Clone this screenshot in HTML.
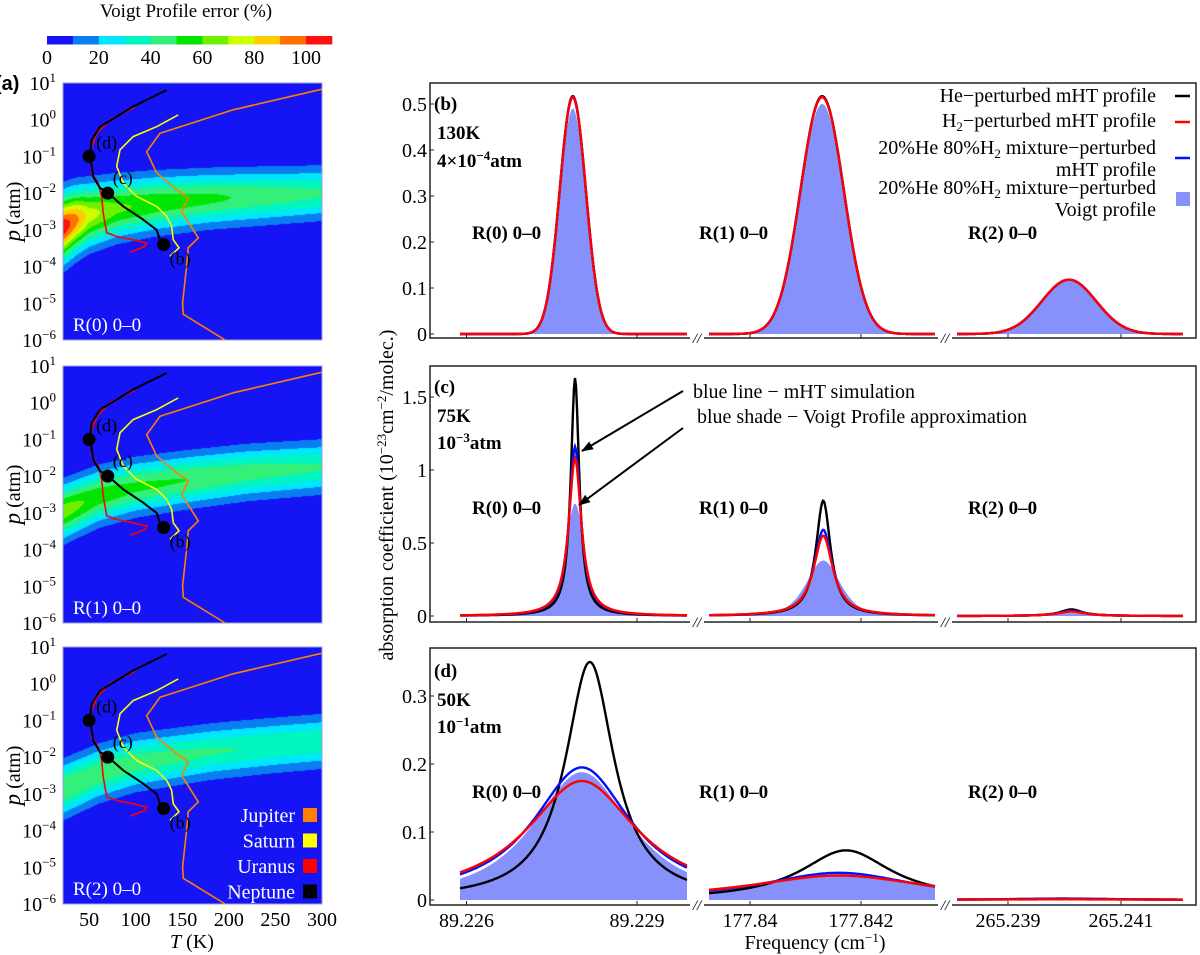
<!DOCTYPE html>
<html><head><meta charset="utf-8">
<style>
body{margin:0;background:#fff;width:1200px;height:955px;overflow:hidden;position:relative;font-family:"Liberation Serif",serif}
canvas{position:absolute}
svg{position:absolute;left:0;top:0}
</style></head>
<body>
<canvas id="cv0" style="left:63px;top:83px" width="259" height="257"></canvas>
<canvas id="cv1" style="left:63px;top:366px" width="259" height="257"></canvas>
<canvas id="cv2" style="left:63px;top:647px" width="259" height="257"></canvas>
<svg id="svg" width="1200" height="955" font-family="Liberation Serif, serif"></svg>
<script>
// ---------- DATA ----------
const levelColors=['#1414f5','#0a7df0','#00e6ff','#00f5c0','#33f07a','#00e600','#70f000','#ccff00','#ffcc00','#ff7000','#ff1010'];
const cbTicks=[0,20,40,60,80,100];
const tTicks=[50,100,150,200,250,300];
const pTicks=[1,0,-1,-2,-3,-4,-5,-6];
const f0T=[22,35,50,80,120,180,300], f0A=[108,95,75,62,57,52,41], f0C=[-2.94,-2.75,-2.6,-2.42,-2.28,-2.15,-2.0], f0S=[0.81,0.78,0.75,0.72,0.69,0.66,0.64];
const f1T=[22,60,100,155,220,300], f1A=[66,56,52,50,45,40.5], f1C=[-2.97,-2.55,-2.3,-2.1,-1.9,-1.75], f1S=[0.67,0.66,0.65,0.64,0.64,0.64];
const f2T=[22,60,100,180,240,300], f2A=[50,47,45,41,39,38], f2C=[-2.88,-2.45,-2.15,-1.85,-1.7,-1.57], f2S=[0.67,0.66,0.66,0.65,0.65,0.65];
const jupiterT=[300,204.7,126.1,111.8,122.5,144,156.4,149.4,167.2,156.4,154.7,150.4,151.1,196];
const jupiterLogP=[0.83,0.27,-0.37,-0.87,-1.45,-1.91,-2.13,-2.5,-3.22,-3.49,-3.99,-4.99,-5.3,-6];
const saturnT=[145.7,122.5,97.4,83.2,79.6,86.7,101,122.5,133.3,138.6,140.4,146.5,136.8];
const saturnLogP=[0.13,-0.19,-0.46,-0.82,-1.27,-1.73,-2.09,-2.36,-2.63,-2.9,-3.27,-3.49,-3.72];
const uranusT=[99.3,72.4,58.2,51.7,52.8,59.9,63.5,65.2,68.9,79.6,97.4,111.8,110,93.9];
const uranusLogP=[0.34,0,-0.37,-0.82,-1.45,-1.73,-2.09,-2.54,-3.08,-3.18,-3.27,-3.36,-3.45,-3.61];
const neptuneT=[133.3,97.4,61.7,52.8,51,54.5,61.7,69.5,86.7,108,122.5,128.5];
const neptuneLogP=[0.81,0.36,-0.19,-0.55,-0.98,-1.55,-1.86,-1.98,-2.36,-2.72,-3.0,-3.45];
const pointT=[130,70,50], pointLogP=[-3.4,-2,-1], pointLabels=['(b)','(c)','(d)'];
const lineLabels=['R(0) 0–0','R(1) 0–0','R(2) 0–0'];
const bCenter=[89.22787,177.84130,265.24008];
const bHe=[0.517,0.517,0.118], bH2=[0.515,0.515,0.118], bMix=[0.515,0.515,0.118], bVoigt=[0.49,0.50,0.115];
const bGw=[0.00023,0.00039,0.00048];
const cCenter=[89.22791,177.84132,265.24012];
const cHe=[1.63,0.79,0.045], cH2=[1.08,0.55,0.03], cMix=[1.16,0.59,0.035], cVoigt=[0.77,0.38,0.02];
const cWHe=[0.00009,0.00016,0.00024], cWH2=[0.000135,0.00021,0.0003], cWMix=[0.000125,0.0002,0.00028], cWVoigt=[0.0002,0.00036,0.0004];
const dCenterHe=[89.22817,177.84173,265.23996], dCenter=[89.22803,177.84160,265.23996];
const dHe=[0.35,0.073,0.002], dH2=[0.175,0.036,0.001], dMix=[0.195,0.04,0.0015], dVoigt=[0.188,0.038,0.0012];
const dWHe=[0.00052,0.00099,0.0012], dWH2=[0.00118,0.00198,0.002], dWMix=[0.00105,0.00171,0.0018], dWVoigt=[0.00103,0.0017,0.0018];
const bTicks=[0,0.1,0.2,0.3,0.4,0.5], cTicks=[0,0.5,1,1.5], dTicks=[0,0.1,0.2,0.3];
const freqTicks=[[89.226,89.229],[177.84,177.842],[265.239,265.241]];

const NS='http://www.w3.org/2000/svg';
const svg=document.getElementById('svg');
function mk(tag,attrs,parent){const e=document.createElementNS(NS,tag);for(const k in attrs)e.setAttribute(k,attrs[k]);(parent||svg).appendChild(e);return e;}
function interp(xs,ys,x){if(x<=xs[0])return ys[0];for(let i=1;i<xs.length;i++){if(x<=xs[i]){const t=(x-xs[i-1])/(xs[i]-xs[i-1]);return ys[i-1]+t*(ys[i]-ys[i-1]);}}return ys[ys.length-1];}

const LX0=63,LX1=322,TMIN=22,TMAX=300,PH=257;
const panelTops=[83,366,647];
const fields=[[f0T,f0A,f0C,f0S],[f1T,f1A,f1C,f1S],[f2T,f2A,f2C,f2S]];
const tx=T=>LX0+(T-TMIN)/(TMAX-TMIN)*(LX1-LX0);
function hex(c){return [parseInt(c.substr(1,2),16),parseInt(c.substr(3,2),16),parseInt(c.substr(5,2),16)];}
const rgb=levelColors.map(hex);
fields.forEach((f,pi)=>{
  const cv=document.getElementById('cv'+pi),ctx=cv.getContext('2d');
  const img=ctx.createImageData(cv.width,cv.height);
  for(let x=0;x<cv.width;x++){
    const T=TMIN+(x+0.5)/cv.width*(TMAX-TMIN);
    const A=interp(f[0],f[1],T),C=interp(f[0],f[2],T),S=interp(f[0],f[3],T);
    for(let y=0;y<cv.height;y++){
      const L=1-(y+0.5)/PH*7;
      const E=A*Math.exp(-Math.pow((L-C)/S,2));
      const k=Math.min(10,Math.floor(E/10));
      const i=(y*cv.width+x)*4;const c=rgb[k];
      img.data[i]=c[0];img.data[i+1]=c[1];img.data[i+2]=c[2];img.data[i+3]=255;
    }
  }
  ctx.putImageData(img,0,0);
});
const planets=[[jupiterT,jupiterLogP,'#ff8000','jupiter'],[saturnT,saturnLogP,'#ffff00','saturn'],[uranusT,uranusLogP,'#ff0000','uranus'],[neptuneT,neptuneLogP,'#000000','neptune']];
panelTops.forEach((top,pi)=>{
  const ly=L=>top+(1-L)/7*PH;
  const g=mk('g',{});
  
  
  mk('rect',{x:LX0,y:top,width:LX1-LX0,height:PH,fill:'none',stroke:'#9aa0e0','stroke-width':1},g);
  planets.forEach(p=>{
    const pts=p[0].map((T,i)=>tx(T).toFixed(1)+','+ly(p[1][i]).toFixed(1)).join(' ');
    const pl=mk('polyline',{points:pts,fill:'none',stroke:p[2],'stroke-width':p[3]==='neptune'?2:1.6},g);
    
    
  });
  pointT.forEach((T,i)=>{
    const c=mk('circle',{cx:tx(T),cy:ly(pointLogP[i]),r:6.5,fill:'#000'},g);
    
    
    const off=i===0?[6,20]:(i===1?[5,-9]:[7,-8]);
    const t=mk('text',{x:tx(T)+off[0],y:ly(pointLogP[i])+off[1],'font-size':18,fill:'#000'},g);
    t.textContent=pointLabels[i];
  });
  const lab=mk('text',{x:73,y:top+PH-9,'font-size':19,fill:'#fff'},g);
  lab.textContent=lineLabels[pi];
  
  
  pTicks.forEach(L=>{
    const t=mk('text',{x:56,y:ly(L)+7,'font-size':20,'text-anchor':'end',fill:'#000'},g);
    
    
    const a=document.createElementNS(NS,'tspan');a.textContent='10';t.appendChild(a);
    const b=document.createElementNS(NS,'tspan');b.setAttribute('dy','-8');b.setAttribute('font-size','13');b.textContent=L<0?'−'+(-L):''+L;t.appendChild(b);
  });
  const yl=mk('text',{x:0,y:0,'font-size':20,'text-anchor':'middle',transform:`translate(20,${top+PH/2}) rotate(-90)`},g);
  yl.innerHTML='<tspan font-style="italic" font-size="23">p</tspan> (atm)';
  
  
});
tTicks.forEach(T=>{
  const t=mk('text',{x:tx(T),y:926,'font-size':20,'text-anchor':'middle'});
  t.textContent=T;
  
  
});
{const t=mk('text',{x:192,y:948,'font-size':20,'text-anchor':'middle'});t.innerHTML='<tspan font-style="italic">T</tspan> (K)';
}
['Jupiter','Saturn','Uranus','Neptune'].forEach((n,i)=>{
  const y=815+i*25.5;
  const t=mk('text',{x:295,y:y+7,'font-size':20,'text-anchor':'end',fill:'#fff'});t.textContent=n;
  
  mk('rect',{x:303,y:y-7,width:14,height:14,fill:planets[i][2]});
});
{const t=mk('text',{x:186,y:17,'font-size':19,'text-anchor':'middle'});t.textContent='Voigt Profile error (%)';
}
levelColors.forEach((c,i)=>{
  const r=mk('rect',{x:47+i*25.9,y:36,width:26.3,height:8.5,fill:c});
  
});
cbTicks.forEach(v=>{const t=mk('text',{x:47+v/10*25.9,y:64,'font-size':20,'text-anchor':'middle'});t.textContent=v;
});
{const t=mk('text',{x:-5,y:90,'font-size':20,'font-weight':'bold','font-family':'Liberation Sans, sans-serif'});t.textContent='(a)';
}

const RX0=430,RX1=1196;
const segPx=[[460,687],[709,935],[957,1183]];
const tickPx=[[466.5,637],[750,861],[1008,1121]];
function pxToF(s,x){const a=freqTicks[s],p=tickPx[s];return a[0]+(x-p[0])/(p[1]-p[0])*(a[1]-a[0]);}
const gauss=(A,c,w,f)=>A*Math.exp(-0.5*Math.pow((f-c)/w,2));
const lor=(A,c,w,f)=>A/(1+Math.pow((f-c)/w,2));
const pv=(A,c,w,f)=>0.5*lor(A,c,w,f)+0.5*A*Math.exp(-Math.LN2*Math.pow((f-c)/w,2));
const pvd=(A,c,w,f)=>0.85*lor(A,c,w,f)+0.15*A*Math.exp(-Math.LN2*Math.pow((f-c)/w,2));
const panels=[
 {name:'b',top:83,bot:338,y0:334,scale:460,ticks:bTicks,labelY:239,
  series:[
   {key:'voigt',fill:true,fn:(s,f)=>gauss(bVoigt[s],bCenter[s],bGw[s],f)},
   {key:'he',color:'#000',fn:(s,f)=>gauss(bHe[s],bCenter[s],bGw[s],f)},
   {key:'mix',color:'#0010ff',fn:(s,f)=>gauss(bMix[s],bCenter[s],bGw[s],f)},
   {key:'h2',color:'#ff0000',fn:(s,f)=>gauss(bH2[s],bCenter[s],bGw[s],f)}]},
 {name:'c',top:366,bot:622,y0:616,scale:146,ticks:cTicks,labelY:514,
  series:[
   {key:'voigt',fill:true,fn:(s,f)=>pv(cVoigt[s],cCenter[s],cWVoigt[s],f)},
   {key:'he',color:'#000',fn:(s,f)=>lor(cHe[s],cCenter[s],cWHe[s],f)},
   {key:'mix',color:'#0010ff',fn:(s,f)=>lor(cMix[s],cCenter[s],cWMix[s],f)},
   {key:'h2',color:'#ff0000',fn:(s,f)=>lor(cH2[s],cCenter[s],cWH2[s],f)}]},
 {name:'d',top:648,bot:905,y0:900,scale:680,ticks:dTicks,labelY:798,
  series:[
   {key:'voigt',fill:true,fn:(s,f)=>pvd(dVoigt[s],dCenter[s],dWVoigt[s],f)},
   {key:'he',color:'#000',fn:(s,f)=>lor(dHe[s],dCenterHe[s],dWHe[s],f)},
   {key:'mix',color:'#0010ff',fn:(s,f)=>lor(dMix[s],dCenter[s],dWMix[s],f)},
   {key:'h2',color:'#ff0000',fn:(s,f)=>lor(dH2[s],dCenter[s],dWH2[s],f)}]}
];
panels.forEach(P=>{
  const g=mk('g',{});
  
  
  const yv=v=>P.y0-v*P.scale;
  P.series.forEach(S=>{
    for(let s=0;s<3;s++){
      const pts=[];
      for(let x=segPx[s][0];x<=segPx[s][1];x+=1){const f=pxToF(s,x);pts.push([x,Math.max(P.top+1,yv(S.fn(s,f)))]);}
      if(S.fill){
        const d='M'+segPx[s][0]+','+P.y0+' '+pts.map(p=>'L'+p[0]+','+p[1].toFixed(1)).join(' ')+' L'+segPx[s][1]+','+P.y0+'Z';
        const e=mk('path',{d:d,fill:'#8791fb',stroke:'none'},g);
        
        
      }else{
        const e=mk('polyline',{points:pts.map(p=>p[0]+','+p[1].toFixed(1)).join(' '),fill:'none',stroke:S.color,'stroke-width':2.4},g);
        
        
      }
    }
  });
  mk('rect',{x:RX0,y:P.top,width:RX1-RX0,height:P.bot-P.top,fill:'none',stroke:'#222','stroke-width':1.5},g);
  tickPx.forEach(tp=>tp.forEach(x=>mk('line',{x1:x,x2:x,y1:P.bot,y2:P.bot-4,stroke:'#222'},g)));
  [697,945].forEach(x=>{
    mk('rect',{x:x-7,y:P.bot-6,width:14,height:10,fill:'#fff'},g);
    const t=mk('text',{x:x,y:P.bot+5,'font-size':15,'font-style':'italic','text-anchor':'middle'},g);t.textContent='//';
    
  });
  P.ticks.forEach(v=>{
    mk('line',{x1:RX0,x2:RX0+4,y1:yv(v),y2:yv(v),stroke:'#222'},g);
    const t=mk('text',{x:RX0-3,y:yv(v)+7,'font-size':20,'text-anchor':'end'},g);t.textContent=''+v;
    
  });
  [472,699,968].forEach((x,i)=>{
    const t=mk('text',{x:x,y:P.labelY,'font-size':19,'font-weight':'bold'},g);t.textContent=lineLabels[i];
    
  });
});
function txt(x,y,html,attrs,name){const t=mk('text',Object.assign({x:x,y:y,'font-size':19},attrs||{}));t.innerHTML=html;return t;}
txt(434,110,'(b)',{'font-weight':'bold'},'panel-b-label');
txt(437,139,'130K',{'font-weight':'bold'},'panel-b-temperature');
txt(437,167,'4×10<tspan dy="-7" font-size="13">−4</tspan><tspan dy="7">atm</tspan>',{'font-weight':'bold'},'panel-b-pressure');
txt(434,393,'(c)',{'font-weight':'bold'},'panel-c-label');
txt(437,422,'75K',{'font-weight':'bold'},'panel-c-temperature');
txt(437,449,'10<tspan dy="-7" font-size="13">−3</tspan><tspan dy="7">atm</tspan>',{'font-weight':'bold'},'panel-c-pressure');
txt(434,677,'(d)',{'font-weight':'bold'},'panel-d-label');
txt(437,706,'50K',{'font-weight':'bold'},'panel-d-temperature');
txt(437,733,'10<tspan dy="-7" font-size="13">−1</tspan><tspan dy="7">atm</tspan>',{'font-weight':'bold'},'panel-d-pressure');
const legText=[['He−perturbed mHT profile',102],['H<tspan dy="4" font-size="13">2</tspan><tspan dy="-4">−perturbed mHT profile',127],['20%He 80%H<tspan dy="4" font-size="13">2</tspan><tspan dy="-4"> mixture−perturbed</tspan>',154],['mHT profile',176],['20%He 80%H<tspan dy="4" font-size="13">2</tspan><tspan dy="-4"> mixture−perturbed</tspan>',194],['Voigt profile',216]];
legText.forEach(l=>txt(1156,l[1],l[0],{'text-anchor':'end','font-size':20},'legend-text'));
mk('line',{x1:1175,x2:1190,y1:96,y2:96,stroke:'#000','stroke-width':2.5});
mk('line',{x1:1175,x2:1190,y1:122,y2:122,stroke:'#ff0000','stroke-width':2.5});
mk('line',{x1:1175,x2:1190,y1:158,y2:158,stroke:'#0010ff','stroke-width':2.5});
mk('rect',{x:1176,y:192,width:14,height:14,fill:'#8791fb'});
txt(693,398,'blue line − mHT simulation',{'font-size':20},'annotation-blue-line');
txt(697,423,'blue shade − Voigt Profile approximation',{'font-size':20},'annotation-blue-shade');
const defs=mk('defs',{});
const mkr=mk('marker',{id:'ah',markerWidth:12,markerHeight:9,refX:11,refY:4.5,orient:'auto',markerUnits:'userSpaceOnUse'},defs);
mk('path',{d:'M0,0 L12,4.5 L0,9 Z',fill:'#000'},mkr);
mk('line',{x1:683,y1:391,x2:582,y2:451,stroke:'#000','stroke-width':2,'marker-end':'url(#ah)'});
mk('line',{x1:683,y1:428,x2:579,y2:505,stroke:'#000','stroke-width':2,'marker-end':'url(#ah)'});
freqTicks.forEach((a,s)=>a.forEach((v,j)=>{const t=mk('text',{x:tickPx[s][j],y:927,'font-size':20,'text-anchor':'middle'});t.textContent=''+v;
}));
txt(815,949,'Frequency (cm<tspan dy="-7" font-size="13">−1</tspan><tspan dy="7">)</tspan>',{'font-size':20,'text-anchor':'middle'},'x-axis-title-frequency');
txt(0,0,'absorption coefficient (10<tspan dy="-7" font-size="13">−23</tspan><tspan dy="7">cm</tspan><tspan dy="-7" font-size="13">−2</tspan><tspan dy="7">/molec.)</tspan>',{'font-size':20,'text-anchor':'middle',transform:'translate(393,495) rotate(-90)'},'y-axis-title-absorption');
</script>
</body></html>
